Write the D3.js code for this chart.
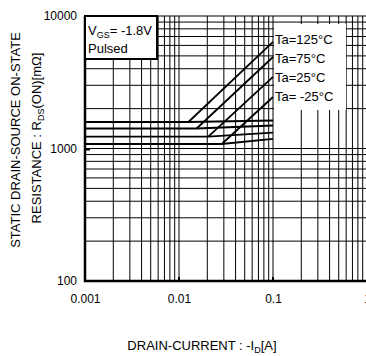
<!DOCTYPE html>
<html>
<head>
<meta charset="utf-8">
<script src="https://cdn.jsdelivr.net/npm/d3@7"></script>
<style>
  body { margin: 0; background: #fff; }
  svg text { font-family: "Liberation Sans", Arial, sans-serif; fill: #000; }
</style>
</head>
<body>
<div id="chart"></div>
<script>
// curves: one flat line and one rising line per temperature
var temps = ["Ta=125°C", "Ta=75°C", "Ta=25°C", "Ta= -25°C"];
var flatLevel = [1585, 1416, 1228, 1081];       // mOhm at low current
var kneeCurrent = [0.0126, 0.0154, 0.0205, 0.0285];
var flatEnd = [1627, 1492, 1320, 1180];          // mOhm at 0.1 A
var riseEnd = [6368, 4904, 3467, 2446];          // mOhm at 0.1 A (rising branch)
var currentStart = 0.001, currentEnd = 0.1;

var xTickValues = [0.001, 0.01, 0.1, 1];
var xTickLabels = ["0.001", "0.01", "0.1", "1"];
var yTickValues = [100, 1000, 10000];
var yTickLabels = ["100", "1000", "10000"];

(function () {
    var W = 366, H = 356;
    var m = {left: 85, top: 16, bottom: 281, right: 367};

    var svg = d3.select("#chart").append("svg")
        .attr("width", W)
        .attr("height", H);

    var x = d3.scaleLog().domain([0.001, 1]).range([m.left, m.right]);
    var y = d3.scaleLog().domain([100, 10000]).range([m.bottom, m.top]);

    // horizontal grid
    svg.append("g").selectAll("line")
        .data(y.ticks())
        .enter().append("line")
        .attr("x1", m.left).attr("x2", m.right)
        .attr("y1", function (d) { return y(d); })
        .attr("y2", function (d) { return y(d); })
        .attr("stroke", "#000").attr("stroke-width", 1);

    // legend area on the right hides the horizontal lines
    svg.append("rect")
        .attr("x", x(0.1) + 1).attr("y", 24)
        .attr("width", 72).attr("height", 123)
        .attr("fill", "#fff");

    // vertical grid
    svg.append("g").selectAll("line")
        .data(x.ticks())
        .enter().append("line")
        .attr("x1", function (d) { return x(d); })
        .attr("x2", function (d) { return x(d); })
        .attr("y1", m.top).attr("y2", m.bottom)
        .attr("stroke", "#000").attr("stroke-width", 1);

    svg.append("rect")
        .attr("x", x(0.1) + 1).attr("y", 24)
        .attr("width", 72).attr("height", 86)
        .attr("fill", "#fff");

    // frame: thick left and bottom
    svg.append("line")
        .attr("x1", m.left).attr("x2", m.left).attr("y1", m.top).attr("y2", m.bottom + 1)
        .attr("stroke", "#000").attr("stroke-width", 2.5);
    svg.append("line")
        .attr("x1", m.left - 1).attr("x2", m.right).attr("y1", m.bottom).attr("y2", m.bottom)
        .attr("stroke", "#000").attr("stroke-width", 2.5);

    // axes (labels only)
    var xAxis = d3.axisBottom(x)
        .tickValues(xTickValues)
        .tickFormat(function (d, i) { return xTickLabels[i]; })
        .tickSize(0).tickPadding(13);
    var gx = svg.append("g")
        .attr("transform", "translate(0," + m.bottom + ")")
        .call(xAxis);
    gx.select(".domain").remove();
    gx.selectAll("text").attr("font-size", 12).attr("fill", "#000")
        .style("font-family", "Liberation Sans, Arial, sans-serif");

    var yAxis = d3.axisLeft(y)
        .tickValues(yTickValues)
        .tickFormat(function (d, i) { return yTickLabels[i]; })
        .tickSize(0).tickPadding(8);
    var gy = svg.append("g")
        .attr("transform", "translate(" + m.left + ",0)")
        .call(yAxis);
    gy.select(".domain").remove();
    gy.selectAll("text").attr("font-size", 12).attr("fill", "#000")
        .style("font-family", "Liberation Sans, Arial, sans-serif");

    // small inward ticks
    svg.selectAll("line.xt")
        .data(xTickValues.slice(1, 3))
        .enter().append("line")
        .attr("class", "xt")
        .attr("x1", function (d) { return x(d); }).attr("x2", function (d) { return x(d); })
        .attr("y1", m.bottom).attr("y2", m.bottom - 4)
        .attr("stroke", "#000").attr("stroke-width", 2);
    svg.selectAll("line.yt")
        .data([1000])
        .enter().append("line")
        .attr("class", "yt")
        .attr("x1", m.left).attr("x2", m.left + 5)
        .attr("y1", function (d) { return y(d) + 1; }).attr("y2", function (d) { return y(d) + 1; })
        .attr("stroke", "#000").attr("stroke-width", 2);

    // curves
    var line = d3.line()
        .x(function (d) { return x(d[0]); })
        .y(function (d) { return y(d[1]); });

    temps.forEach(function (t, i) {
        var flat = [[currentStart, flatLevel[i]], [kneeCurrent[i], flatLevel[i]], [currentEnd, flatEnd[i]]];
        var rise = [[kneeCurrent[i], flatLevel[i]], [currentEnd, riseEnd[i]]];
        [flat, rise].forEach(function (pts) {
            svg.append("path")
                .datum(pts)
                .attr("d", line)
                .attr("fill", "none")
                .attr("stroke", "#000")
                .attr("stroke-width", 1.8);
        });
    });

    // temperature labels
    svg.selectAll("text.temp")
        .data(temps)
        .enter().append("text")
        .attr("class", "temp")
        .attr("x", x(0.1) + 2)
        .attr("y", function (d, i) { return 44 + i * 19; })
        .attr("font-size", 13)
        .text(function (d) { return d; });

    // condition box top-left
    svg.append("rect")
        .attr("x", m.left).attr("y", m.top)
        .attr("width", 72).attr("height", 43)
        .attr("fill", "#fff")
        .attr("stroke", "#000").attr("stroke-width", 2);

    var cond = svg.append("text")
        .attr("x", m.left + 3).attr("y", 35)
        .attr("font-size", 13);
    cond.append("tspan").text("V");
    cond.append("tspan").attr("font-size", 9).attr("dy", 3).text("GS");
    cond.append("tspan").attr("dy", -3).text("= -1.8V");

    svg.append("text")
        .attr("x", m.left + 3).attr("y", 53)
        .attr("font-size", 13)
        .text("Pulsed");

    // axis titles
    var xt = svg.append("text")
        .attr("x", 202).attr("y", 350)
        .attr("text-anchor", "middle")
        .attr("font-size", 13);
    xt.append("tspan").text("DRAIN-CURRENT : -I");
    xt.append("tspan").attr("font-size", 9).attr("dy", 3).text("D");
    xt.append("tspan").attr("dy", -3).text("[A]");

    svg.append("text")
        .attr("transform", "translate(20,140) rotate(-90)")
        .attr("text-anchor", "middle")
        .attr("font-size", 13)
        .text("STATIC DRAIN-SOURCE ON-STATE");

    var yt = svg.append("text")
        .attr("transform", "translate(41,138) rotate(-90)")
        .attr("text-anchor", "middle")
        .attr("font-size", 13);
    yt.append("tspan").text("RESISTANCE : R");
    yt.append("tspan").attr("font-size", 9).attr("dy", 3).text("DS");
    yt.append("tspan").attr("dy", -3).text("(ON)[mΩ]");
})();
</script>
</body>
</html>
